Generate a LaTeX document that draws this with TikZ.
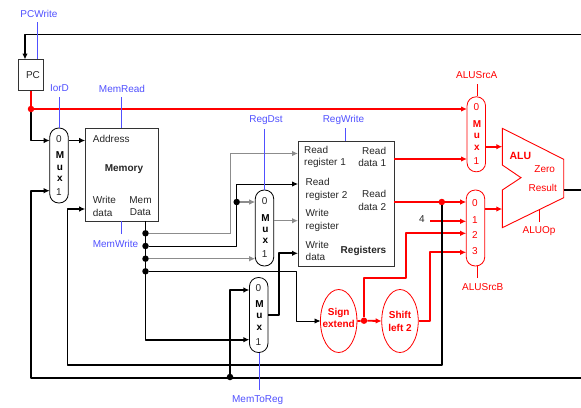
\documentclass[tikz,border=0pt]{standalone}
\usepackage{fontspec}
\setmainfont{Liberation Sans}
\usetikzlibrary{arrows.meta,shapes.geometric}
\definecolor{ctl}{RGB}{80,80,255}
\definecolor{redc}{RGB}{255,0,0}
\definecolor{gline}{RGB}{140,140,140}
\newcommand{\dfont}{\fontsize{10}{12.2}\selectfont}
\tikzset{
 x=1pt,y=-1pt,
 tip/.style={-{Latex[length=6pt,width=5.5pt]}},
 thick1/.style={line width=1.9pt,line join=round},
 thin1/.style={line width=0.9pt,line join=round},
 gthin/.style={line width=1.1pt,draw=gline},
 redw/.style={line width=1.8pt,draw=redc,line join=round},
 ctlline/.style={line width=0.8pt,draw=ctl},
 redctl/.style={line width=0.8pt,draw=redc},
 lbl/.style={font=\dfont,inner sep=0pt,text=black!85},
 blbl/.style={font=\dfont\bfseries,inner sep=0pt,text=black!85},
 clbl/.style={font=\dfont,inner sep=0pt,text=ctl},
 rlbl/.style={font=\dfont,inner sep=0pt,text=redc},
 rblbl/.style={font=\dfont\bfseries,inner sep=0pt,text=redc},
 muxl/.style={font=\fontsize{10}{11.4}\selectfont\bfseries,inner sep=0pt,align=center},
 box/.style={draw=black!80,line width=0.9pt,fill=white,inner sep=0pt,rectangle},
 muxbox/.style={draw=black,line width=0.8pt,fill=white,rounded corners=9pt,rectangle,inner sep=0pt,minimum width=18.5pt},
 rmux/.style={muxbox,draw=redc},
 dot/.style={circle,fill=black,inner sep=0pt,minimum size=6.5pt},
 rdot/.style={dot,fill=redc},
 oval/.style={ellipse,draw=redc,line width=0.8pt,fill=white,inner sep=0pt,minimum width=36.5pt,minimum height=63pt},
 ovalt/.style={text=redc,align=center,inner sep=0pt,font=\dfont\bfseries},
}
\begin{document}
\begin{tikzpicture}
\useasboundingbox (0,0) rectangle (581,407);
% boxes
\node[box,minimum width=25pt,minimum height=31pt] (pc) at (31,75) {};
\node[lbl] (pct) at (33,75.5) {PC};
\node[box,minimum width=73pt,minimum height=93pt] (mem) at (121.7,174.5) {};
\node[box,minimum width=96pt,minimum height=125pt] (reg) at (346,204) {};
\node[muxbox,minimum height=75pt] (m1) at (59,165.5) {};
\node[muxbox,minimum height=76pt] (m2) at (264.5,228) {};
\node[muxbox,minimum height=75pt] (m3) at (258.7,315) {};
\node[rmux,minimum height=75pt] (m4) at (476.3,134.3) {};
\node[rmux,minimum height=76pt] (m5) at (475.5,228) {};
\node[oval] (se) at (338.7,321) {};
\node[oval] (sl) at (400,321) {};
\node[ovalt] (set) at (338.7,318) {Sign\\extend};
\node[ovalt] (slt) at (400,321.5) {Shift\\left 2};
\draw[draw=redc,line width=0.9pt,fill=white,line join=miter] (502.3,128.3)--(563.7,159.3)--(563.7,197.7)--(502.3,227.7)--(502.3,190)--(521,177.7)--(502.3,165)--cycle;
% ports and free ends
\coordinate (top) at (581,34.5);
\coordinate (bot) at (581,377.7);
\coordinate (resEnd) at (581,190);
\coordinate (aluR) at (563.7,190);
\coordinate (aluA) at (502.3,146.7);
\coordinate (aluB) at (502.3,209);
\coordinate (aluO) at (539,209.8);
\coordinate (m1a) at (49.7,140.5);
\coordinate (m1b) at (49.7,190.7);
\coordinate (memA) at (85.2,140.5);
\coordinate (memW) at (85.2,209);
\coordinate (regR1) at (298,153.5);
\coordinate (regR2) at (298,184);
\coordinate (regWr) at (298,220.7);
\coordinate (regWd) at (298,253.3);
\coordinate (regD1) at (394,159);
\coordinate (regD2) at (394,202);
\coordinate (m2a) at (255.2,202);
\coordinate (m2b) at (255.2,258.7);
\coordinate (m2o) at (273.8,220.7);
\coordinate (m3a) at (249.4,290);
\coordinate (m3b) at (249.4,339.7);
\coordinate (m3o) at (268,315);
\coordinate (m4a) at (467,109);
\coordinate (m4b) at (467,159);
\coordinate (m4o) at (485.5,146.7);
\coordinate (m5a) at (466.2,202);
\coordinate (m5b) at (466.2,221.3);
\coordinate (m5c) at (466.2,233.3);
\coordinate (m5d) at (466.2,252.3);
\coordinate (m5o) at (484.8,209);
\coordinate (seIn) at (320.5,321);
\coordinate (slIn) at (381.7,321);
\coordinate (four) at (430,221.3);
% dots
\node[dot] (d1) at (145.5,233.3) {};
\node[dot] (d2) at (145.5,246) {};
\node[dot] (d3) at (145.5,258.7) {};
\node[dot] (d4) at (145.5,271.3) {};
\node[dot] (d5) at (236.7,202) {};
\node[dot] (d6) at (230,377) {};
% thin wires
\draw[gthin,tip] (d1) -- (230.7,233.3) -- (230.7,153.5) -- (regR1);
\draw[thin1] (d2) -- (236.7,246) -- (d5);
\draw[thin1,tip] (d5) -- (236.7,184) -- (regR2);
\draw[gthin,tip] (d5) -- (m2a);
\draw[gthin,tip] (d3) -- (m2b);
\draw[gthin,tip] (m2o) -- (regWr);
\draw[thin1,tip] (d4) -- (296.7,271.3) -- (296.7,321) -- (seIn);
% black thick wires
\draw[thick1,tip] (top) -- (25,34.5) -- (25,59.5);
\draw[thick1,tip] (bot) -- (31,377.7) -- (31,190.7) -- (m1b);
\draw[thick1,tip] (31,109) -- (31,140.5) -- (m1a);
\draw[thick1,tip] (m1.east |- memA) -- (memA);
\draw[thick1,tip] (145.5,221) -- (145.5,339.7) -- (m3b);
\draw[thick1,tip] (d6) -- (230,290) -- (m3a);
\draw[thick1,tip] (m3o) -- (278.7,315) -- (278.7,253.3) -- (regWd);
\draw[thick1] (aluR) -- (resEnd);
% red wires
\node[rdot] (d7) at (31,109) {};
\node[rdot] (d8) at (364,320.7) {};
\node[rdot] (d9) at (441.8,202) {};
\draw[redw] (pc.south) -- (d7);
\draw[redw,tip] (d7) -- (m4a);
\draw[redw,tip] (regD1) -- (m4b);
\draw[redw,tip] (regD2) -- (m5a);
\draw[redw,tip] (m4o) -- (aluA);
\draw[redw,tip] (m5o) -- (aluB);
\draw[redw,tip] (four) -- (m5b);
\draw[redw] (se.east) -- (d8);
\draw[redw,tip] (d8) -- (slIn);
\draw[redw,tip] (d8) -- (364,277.7) -- (405.7,277.7) -- (405.7,233.3) -- (m5c);
\draw[redw,tip] (sl.east) -- (430,321) -- (430,252.3) -- (m5d);
\draw[thick1,tip] (d9.south) -- (441.8,365) -- (67.5,365) -- (67.5,209) -- (memW);
\node[lbl] (fourt) at (422,219.5) {4};
% control
\node[clbl] (t1) at (39,13.5) {PCWrite};
\node[clbl] (t2) at (59.5,88.5) {IorD};
\node[clbl] (t3) at (122,88.5) {MemRead};
\node[clbl] (t4) at (266,119.7) {RegDst};
\node[clbl] (t5) at (343.5,119.5) {RegWrite};
\node[clbl] (t6) at (115.5,244.3) {MemWrite};
\node[clbl] (t7) at (257.7,400.5) {MemToReg};
\node[rlbl] (t8) at (476.7,75.5) {ALUSrcA};
\node[rlbl] (t9) at (482.7,287.5) {ALUSrcB};
\node[rlbl] (t10) at (539,231.3) {ALUOp};
\coordinate (c1) at (37,22); \coordinate (c2) at (59.5,97); \coordinate (c3) at (121.5,97);
\coordinate (c4) at (264.5,129); \coordinate (c5) at (345.3,128); \coordinate (c6) at (121.5,234);
\coordinate (c7) at (259,390); \coordinate (c8) at (477,84); \coordinate (c9) at (477,278); \coordinate (c10) at (539,222);
\draw[ctlline] (c1) -- (c1 |- pc.north);
\draw[ctlline] (c2) -- (c2 |- m1.north);
\draw[ctlline] (c3) -- (c3 |- mem.north);
\draw[ctlline] (c4) -- (c4 |- m2.north);
\draw[ctlline] (c5) -- (c5 |- reg.north);
\draw[ctlline] (c6) -- (c6 |- mem.south);
\draw[ctlline] (c7) -- (c7 |- m3.south);
\draw[redctl] (c8) -- (c8 |- m4.north);
\draw[redctl] (c9) -- (c9 |- m5.south);
\draw[redctl] (c10) -- (aluO);
% memory text
\node[lbl,anchor=west] (x1) at (92.7,138.5) {Address};
\node[blbl] (x2) at (124,169.5) {Memory};
\node[lbl,align=left,anchor=west] (x3) at (92.7,206.5) {Write\\data};
\node[lbl,align=center] (x4) at (140.5,206.5) {Mem\\Data};
% register text
\node[lbl,align=left,anchor=west] (r1) at (304,156.7) {Read\\register 1};
\node[lbl,align=right,anchor=east] (r2) at (386.3,156.7) {Read\\data 1};
\node[lbl,align=left,anchor=west] (r3) at (305.5,189.5) {Read\\register 2};
\node[lbl,align=right,anchor=east] (r4) at (386.3,200.5) {Read\\data 2};
\node[lbl,align=left,anchor=west] (r5) at (305.5,220.5) {Write\\register};
\node[lbl,align=left,anchor=west] (r6) at (305.5,251.3) {Write\\data};
\node[blbl,anchor=east] (r7) at (386.5,250.7) {Registers};
% mux text
\node[lbl] (m1z) at (59,139.3) {0};
\node[muxl] (m1t) at (60,166.7) {M\\u\\x};
\node[lbl] (m1o) at (59,192.5) {1};
\node[lbl] (m2z) at (264.7,201) {0};
\node[muxl] (m2t) at (265.5,229) {M\\u\\x};
\node[lbl] (m2o2) at (264.7,254) {1};
\node[lbl] (m3z) at (258.5,288) {0};
\node[muxl] (m3t) at (259.5,315.5) {M\\u\\x};
\node[lbl] (m3o2) at (258.5,342) {1};
\node[rlbl] (m4z) at (476.3,107.5) {0};
\node[rblbl,font=\fontsize{10}{11.6}\selectfont\bfseries,align=center] (m4t) at (477,135.5) {M\\u\\x};
\node[rlbl] (m4o2) at (476.3,161) {1};
\node[rlbl] (m5at) at (475,203) {0};
\node[rlbl] (m5bt) at (475,219.7) {1};
\node[rlbl] (m5ct) at (475,235) {2};
\node[rlbl] (m5dt) at (475,251.5) {3};
\node[rblbl,font=\fontsize{10.5}{12}\selectfont\bfseries] (alu) at (520.3,156) {ALU};
\node[rlbl] (z) at (544.7,169.5) {Zero};
\node[rlbl] (rs) at (542.7,188) {Result};
\end{tikzpicture}
\end{document}
